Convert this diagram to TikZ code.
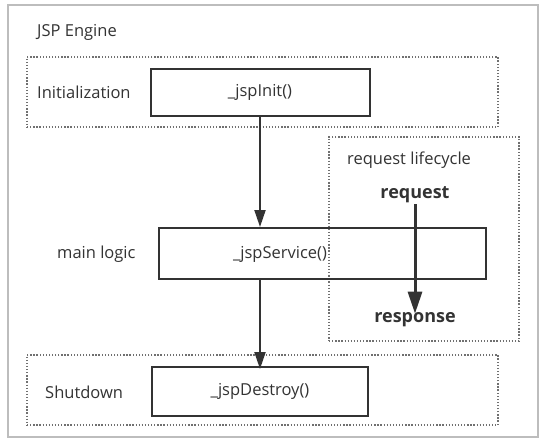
\documentclass[tikz,border=0pt]{standalone}
\usepackage{fontspec}
\setmainfont{Open Sans}
\usetikzlibrary{arrows.meta}
\definecolor{inkgrey}{HTML}{333333}
\definecolor{framegrey}{HTML}{BDBDBD}
\definecolor{dotgrey}{HTML}{707070}
\tikzset{
  phasebox/.style={draw=dotgrey, line width=1.3pt, dash pattern=on 1.3pt off 1.8pt, inner sep=0pt},
  methodbox/.style={draw=inkgrey, line width=2pt, inner sep=0pt},
  lbl/.style={anchor=west, inner sep=0pt},
  flow/.style={draw=inkgrey, line width=2pt, -{Triangle[width=11pt,length=17pt]}},
}
\begin{document}
\begin{tikzpicture}[x=1pt, y=-1pt, font=\fontsize{16.5}{20}\selectfont, text=inkgrey]
\useasboundingbox (0,0) rectangle (545,446);
\fill[white] (0,0) rectangle (545,446);
\node[draw=framegrey, line width=1.5pt, minimum width=530pt, minimum height=432pt, inner sep=0pt] (engine) at (273,221) {};
\node[lbl] (engine_lbl) at (37,32) {JSP Engine};
% phases
\node[phasebox, minimum width=471pt, minimum height=70pt] (init_f) at (262.5,92) {};
\node[phasebox, minimum width=190pt, minimum height=204pt] (life_f) at (424,239) {};
\node[phasebox, minimum width=471pt, minimum height=70pt] (shut_f) at (262.5,390) {};
\node[lbl] (init_lbl) at (37,92) {Initialization};
\node[lbl] (main_lbl) at (57,254) {main logic};
\node[lbl] (life_lbl) at (347,160) {request lifecycle};
\node[lbl] (shut_lbl) at (45,392) {Shutdown};
% methods
\node[methodbox, fill=white, minimum width=219pt, minimum height=47pt] (jspInit) at (260,92.5) {\_jspInit()};
\node[methodbox, minimum width=327pt, minimum height=51pt] (jspService) at (322.5,253.5) {};
\node (service_txt) at (280,254) {\_jspService()};
\node[methodbox, fill=white, minimum width=216pt, minimum height=49pt] (jspDestroy) at (260,391.5) {\_jspDestroy()};
% request / response
\node[font=\fontsize{18}{20}\selectfont\bfseries, inner sep=1pt] (req) at (415,195) {request};
\node[font=\fontsize{18}{20}\selectfont\bfseries, inner sep=1pt] (resp) at (415,320) {response};
\draw[flow] (jspInit.south) -- (jspInit.south |- jspService.north);
\draw[flow] (jspService.south -| jspDestroy) -- ([yshift=-3pt]jspDestroy.north);
\draw[flow, line width=3pt, -{Triangle[width=14pt,length=22pt]}] (req.south) -- ([yshift=-2pt]resp.north);
\end{tikzpicture}
\end{document}
